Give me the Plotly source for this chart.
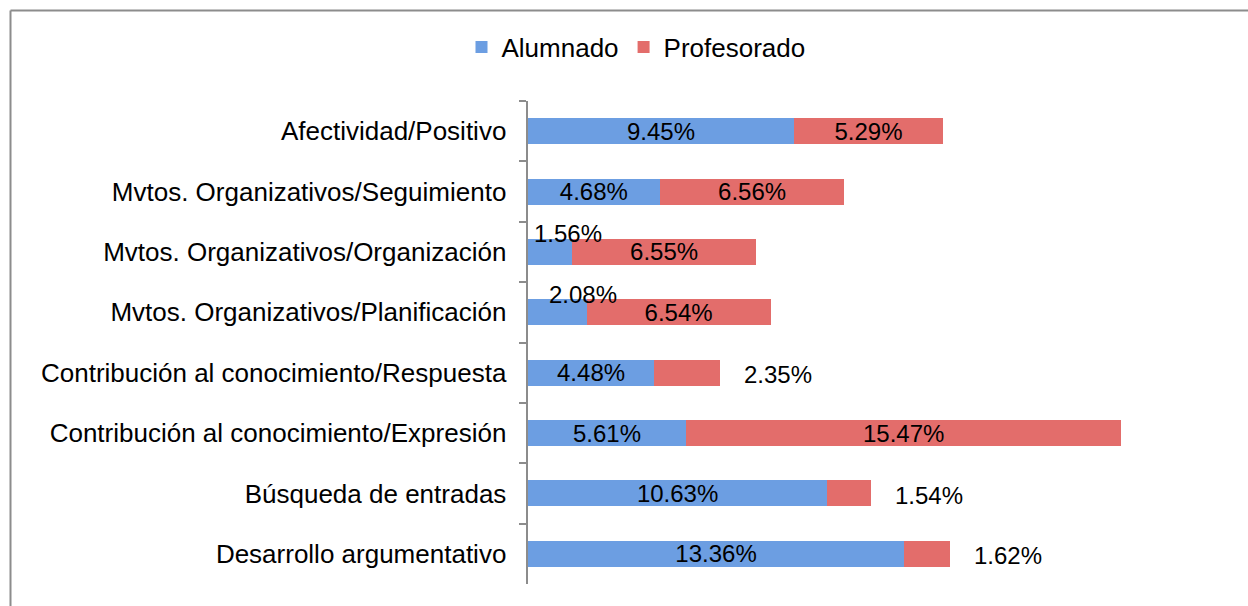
import plotly.graph_objects as go

categories = [
    "Afectividad/Positivo",
    "Mvtos. Organizativos/Seguimiento",
    "Mvtos. Organizativos/Organización",
    "Mvtos. Organizativos/Planificación",
    "Contribución al conocimiento/Respuesta",
    "Contribución al conocimiento/Expresión",
    "Búsqueda de entradas",
    "Desarrollo argumentativo",
]
alumnado = [9.45, 4.68, 1.56, 2.08, 4.48, 5.61, 10.63, 13.36]
profesorado = [5.29, 6.56, 6.55, 6.54, 2.35, 15.47, 1.54, 1.62]

W, H = 1248, 606
ML, MR, MT, MB = 528, 48, 101, 22
PW, PH = W - ML - MR, H - MT - MB
XMAX = PW / 28.15

FONT = "Liberation Sans, Arial, sans-serif"
FS = 24
FS_CAT = 26
BLUE = "#6C9EE2"
RED = "#E36D6B"

def fmt(v):
    return f"{v:.2f}%"

blue_text = [fmt(v) if v >= 3 else "" for v in alumnado]
red_text = [fmt(v) if v >= 3 else "" for v in profesorado]

fig = go.Figure()
fig.add_trace(go.Bar(
    y=categories, x=alumnado, orientation="h", name="Alumnado",
    marker=dict(color=BLUE, line=dict(width=0)),
    text=blue_text, textposition="inside", insidetextanchor="middle",
    textfont=dict(size=FS, color="#000000", family=FONT),
))
fig.add_trace(go.Bar(
    y=categories, x=profesorado, orientation="h", name="Profesorado",
    marker=dict(color=RED, line=dict(width=0)),
    text=red_text, textposition="inside", insidetextanchor="middle",
    textfont=dict(size=FS, color="#000000", family=FONT),
))

annotations = []
for c, a, p in zip(categories, alumnado, profesorado):
    if a < 3:
        annotations.append(dict(
            x=a, y=c, xref="x", yref="y", text=fmt(a), showarrow=False,
            xanchor="center", yanchor="middle", xshift=-4, yshift=18,
            font=dict(size=FS, color="#000000", family=FONT)))
    if p < 3:
        annotations.append(dict(
            x=a + p, y=c, xref="x", yref="y", text=fmt(p), showarrow=False,
            xanchor="left", yanchor="middle", xshift=22, yshift=-2,
            font=dict(size=FS, color="#000000", family=FONT)))

def px_x(px):
    return (px - ML) / PW

def px_y(py):
    return (H - MB - py) / PH

shapes = [
    dict(type="line", xref="paper", yref="paper",
         x0=px_x(10.5), x1=px_x(W + 5), y0=px_y(10.5), y1=px_y(10.5),
         line=dict(color="#8C8C8C", width=2)),
    dict(type="line", xref="paper", yref="paper",
         x0=px_x(10.5), x1=px_x(10.5), y0=px_y(10.5), y1=px_y(H + 5),
         line=dict(color="#8C8C8C", width=2)),
]

fig.update_layout(
    width=W, height=H,
    margin=dict(l=ML, r=MR, t=MT, b=MB, autoexpand=False),
    barmode="stack", bargap=0.57,
    paper_bgcolor="white", plot_bgcolor="white",
    font=dict(family=FONT, size=FS, color="#000000"),
    showlegend=True,
    legend=dict(orientation="h", xref="container", yref="container",
                x=636 / W, y=1 - 47 / H, xanchor="center", yanchor="middle",
                traceorder="normal",
                font=dict(size=FS_CAT, family=FONT, color="#000000"),
                itemwidth=30, tracegroupgap=0),
    xaxis=dict(range=[0, XMAX], visible=False, showgrid=False, zeroline=False),
    yaxis=dict(autorange="reversed", showline=True, linecolor="#8C8C8C", linewidth=2,
               ticks="outside", tickson="boundaries", ticklen=7, tickcolor="#8C8C8C",
               tickwidth=2, showgrid=False, ticksuffix="  ", automargin=False,
               tickfont=dict(size=FS_CAT, family=FONT, color="#000000")),
    annotations=annotations,
    shapes=shapes,
    uniformtext=dict(minsize=FS, mode="show"),
)

fig.write_html("out.html", config={"displayModeBar": False},
               post_script="document.body.style.margin='0';")
